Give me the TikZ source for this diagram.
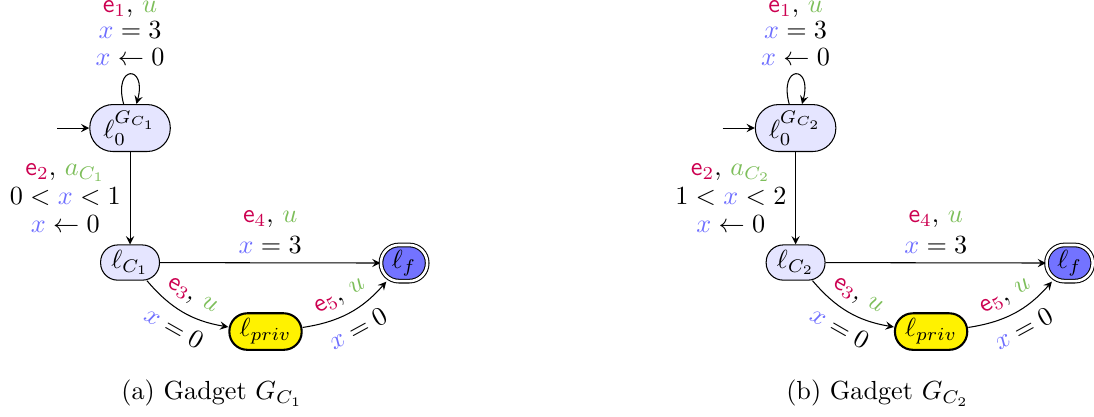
\documentclass[tikz,border=0pt]{standalone}
\usepackage{amsmath}
\usepackage{tikz}
\usetikzlibrary{arrows}
\definecolor{ecol}{RGB}{204,0,80}
\definecolor{ucol}{RGB}{125,190,90}
\definecolor{xcol}{RGB}{110,110,255}
\newcommand*{\EdgeName}[1]{\textcolor{ecol}{\mathsf{e}_{#1}}}
\newcommand*{\ClockX}{\textcolor{xcol}{x}}
\newcommand*{\Act}[1]{\textcolor{ucol}{#1}}
\tikzset{
loc/.style={draw, fill=blue!10, rectangle, inner sep=2pt},
}
\newcommand*{\GadgetAt}[4]{% #1 = x shift, #2 = index, #3 = guard, #4 = letter
\begin{scope}[xshift=#1cm]
\node [loc, minimum width=1.08cm, minimum height=0.63cm, rounded corners=3.1mm]
(init#2) at (1.745,3.865) {$\ell_0^{G_{C_{#2}}}$};
\node [loc, minimum width=0.79cm, minimum height=0.47cm, rounded corners=2.3mm]
(lc#2) at (1.745,2.060) {$\ell_{C_{#2}}$};
\node [loc, fill=yellow, thick, minimum width=0.97cm, minimum height=0.49cm, rounded corners=2.4mm]
(priv#2) at (3.563,1.134) {$\ell_{priv}$};
\node [loc, fill=blue!55, double, double distance=1pt, minimum width=0.62cm, minimum height=0.48cm, rounded corners=2.4mm]
(fin#2) at (5.422,2.053) {$\ell_f$};
\coordinate (start#2) at (0.765,3.865);
\node (cap#2) at (2.845,0.309) {(#4) Gadget $G_{C_{#2}}$};
% edges
\draw [->] (start#2) -- (init#2);
\draw [->] (init#2) edge [loop above, min distance=5.5mm]
node [above, align=center] {$\EdgeName{1}$, $\Act{u}$\\[-2pt] $\ClockX=3$\\[-2pt] $\ClockX\leftarrow 0$} (init#2);
\draw [->] (init#2) -- node [left, align=center]
{$\EdgeName{2}$, $\Act{a_{C_{#2}}}$\\[-1pt] $#3$\\[-1pt] $\ClockX\leftarrow 0$} (lc#2);
\draw [->] (lc#2) -- node [above, align=center]
{$\EdgeName{4}$, $\Act{u}$\\ $\ClockX=3$} (fin#2);
\draw [->] (lc#2) to [bend right=20]
node [above, sloped] {$\EdgeName{3}$, $\Act{u}$}
node [below, sloped] {$\ClockX=0$} (priv#2);
\draw [->] (priv#2) to [bend right=20]
node [above, sloped] {$\EdgeName{5}$, $\Act{u}$}
node [below, sloped] {$\ClockX=0$} (fin#2);
\end{scope}}

\begin{document}
\begin{tikzpicture}[>=stealth]
\useasboundingbox (0,0) rectangle (14.68,5.583);
\GadgetAt{0}{1}{0<\ClockX<1}{a}
\GadgetAt{8.931}{2}{1<\ClockX<2}{b}
\end{tikzpicture}
\end{document}
